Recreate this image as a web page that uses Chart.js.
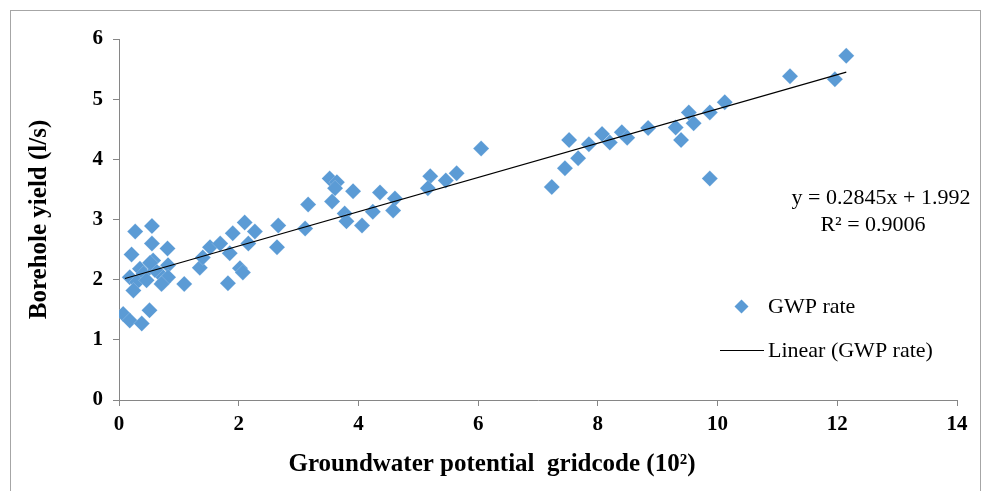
<!DOCTYPE html>
<html>
<head>
<meta charset="utf-8">
<script src="https://cdn.jsdelivr.net/npm/chart.js@4.4.1/dist/chart.umd.min.js"></script>
<style>
  html, body { margin: 0; padding: 0; background: #ffffff; }
  #wrap { width: 984px; height: 491px; position: relative; }
</style>
</head>
<body>
<div id="wrap"><canvas id="c" width="984" height="491"></canvas></div>
<script>
// ---- data ----
const gwpX = [
  0.27, 0.55, 0.21, 0.55, 0.81, 0.57, 0.18, 0.35, 0.41, 0.30,
  0.24, 0.46, 0.68, 0.82, 0.74, 0.82, 1.09, 0.71, 0.07, 0.18,
  0.38, 0.51, 0.60, 0.52,
  2.10, 1.90, 2.27, 2.66, 2.64, 2.16, 1.52, 1.69, 1.85, 1.35,
  1.40, 2.02, 2.07, 1.82,
  3.11, 3.16, 3.52, 3.64, 3.61, 3.91, 3.56, 3.77, 3.80, 4.06,
  4.24, 4.36, 4.61, 4.58, 5.20, 5.16, 5.46, 5.64, 6.05,
  7.23, 7.45, 7.67, 7.52, 7.85, 8.07, 8.20, 8.40, 8.49, 8.84,
  9.30, 9.39, 9.52, 9.60, 9.87, 10.12, 9.87,
  11.21, 11.96, 12.15
];
const gwpY = [
  2.80, 2.89, 2.42, 2.60, 2.52, 2.32, 2.04, 2.18, 2.10, 1.96,
  1.82, 1.99, 2.10, 2.24, 1.96, 2.04, 1.93, 1.93, 1.43, 1.32,
  1.27, 1.49, 2.16, 2.28,
  2.95, 2.77, 2.80, 2.90, 2.54, 2.60, 2.54, 2.60, 2.44, 2.20,
  2.37, 2.19, 2.12, 1.94,
  2.85, 3.25, 3.68, 3.62, 3.52, 3.47, 3.30, 3.10, 2.97, 2.90,
  3.13, 3.45, 3.35, 3.15, 3.72, 3.52, 3.65, 3.77, 4.18,
  3.54, 3.85, 4.02, 4.32, 4.25, 4.42, 4.28, 4.45, 4.36, 4.52,
  4.53, 4.32, 4.78, 4.60, 4.78, 4.95, 3.68,
  5.38, 5.33, 5.72
];
const trendX = [0.10, 12.15];
const trendY = [2.02, 5.45];
const xTicks = [0, 2, 4, 6, 8, 10, 12, 14];
const yTicks = [0, 1, 2, 3, 4, 5, 6];
const seriesName = 'GWP rate';
const trendName = 'Linear (GWP rate)';
const equationText = 'y = 0.2845x + 1.992';
const r2Text = 'R² = 0.9006';
const xTitle = 'Groundwater potential  gridcode (10²)';
const yTitle = 'Borehole yield (l/s)';

const SERIF = '"Liberation Serif", "Times New Roman", Times, serif';
const BLUE = '#5B9BD5';
const AXIS = '#868686';

const pts = gwpX.map((x, i) => ({ x: x, y: gwpY[i] }));
const trendPts = trendX.map((x, i) => ({ x: x, y: trendY[i] }));

const decor = {
  id: 'decor',
  beforeDraw(chart) {
    const ctx = chart.ctx;
    ctx.save();
    ctx.fillStyle = '#ffffff';
    ctx.fillRect(0, 0, chart.width, chart.height);
    ctx.strokeStyle = '#a6a6a6';
    ctx.lineWidth = 1;
    ctx.strokeRect(10.5, 10.5, 970, 520);
    ctx.restore();
  },
  afterDraw(chart) {
    const ctx = chart.ctx;
    ctx.save();
    ctx.font = '22px ' + SERIF;
    ctx.fillStyle = '#000';
    ctx.textBaseline = 'middle';
    ctx.textAlign = 'center';
    ctx.fillText(equationText, 881, 198);
    ctx.fillText(r2Text, 873, 225);
    // legend
    ctx.textAlign = 'left';
    ctx.fillStyle = BLUE;
    ctx.beginPath();
    const cx = 741.5, cy = 306.5, r = 7;
    ctx.moveTo(cx, cy - r); ctx.lineTo(cx + r, cy); ctx.lineTo(cx, cy + r); ctx.lineTo(cx - r, cy);
    ctx.closePath(); ctx.fill();
    ctx.fillStyle = '#000';
    ctx.fillText(seriesName, 768, 307);
    ctx.strokeStyle = '#000';
    ctx.lineWidth = 1;
    ctx.beginPath(); ctx.moveTo(720, 350.5); ctx.lineTo(764, 350.5); ctx.stroke();
    ctx.fillText(trendName, 768, 351);
    ctx.restore();
  }
};

new Chart(document.getElementById('c'), {
  type: 'scatter',
  data: {
    datasets: [
      {
        label: seriesName,
        data: pts,
        pointStyle: 'rectRot',
        pointRadius: 8,
        pointHoverRadius: 8,
        backgroundColor: BLUE,
        borderColor: 'rgba(255,255,255,0.35)',
        borderWidth: 0.5,
        order: 2
      },
      {
        type: 'line',
        label: trendName,
        data: trendPts,
        borderColor: '#000000',
        borderWidth: 1.2,
        pointRadius: 0,
        fill: false,
        order: 1
      }
    ]
  },
  options: {
    responsive: false,
    animation: false,
    events: [],
    layout: { padding: { top: 39, right: 0, left: 0, bottom: 0 } },
    plugins: {
      legend: { display: false },
      tooltip: { enabled: false },
      title: {
        display: true,
        position: 'bottom',
        text: xTitle,
        color: '#000',
        font: { family: SERIF, size: 25, weight: 'bold', lineHeight: 1.2 },
        padding: { top: 0, bottom: 11 }
      }
    },
    scales: {
      x: {
        type: 'linear',
        min: 0, max: 14,
        afterBuildTicks(s) { s.ticks = xTicks.map(v => ({ value: v })); },
        afterFit(s) { s.height = 50; },
        ticks: {
          color: '#000',
          padding: 6,
          maxRotation: 0,
          font: { family: SERIF, size: 21, weight: 'bold' }
        },
        grid: { display: true, drawOnChartArea: false, drawTicks: true, tickLength: 6, color: AXIS },
        border: { display: true, color: AXIS, width: 1 }
      },
      y: {
        type: 'linear',
        min: 0, max: 6,
        afterBuildTicks(s) { s.ticks = yTicks.map(v => ({ value: v })); },
        afterFit(s) { s.width = 119; },
        ticks: {
          color: '#000',
          padding: 10,
          font: { family: SERIF, size: 21, weight: 'bold' }
        },
        title: {
          display: true,
          text: yTitle,
          color: '#000',
          font: { family: SERIF, size: 25, weight: 'bold', lineHeight: 1.2 },
          padding: { top: 25, bottom: 0 }
        },
        grid: { display: true, drawOnChartArea: false, drawTicks: true, tickLength: 6, color: AXIS },
        border: { display: true, color: AXIS, width: 1 }
      },
      ySpacer: {
        type: 'linear',
        position: 'right',
        display: true,
        min: 0, max: 6,
        afterFit(s) { s.width = 27; },
        ticks: { display: false },
        grid: { display: false, drawTicks: false },
        border: { display: false }
      }
    }
  },
  plugins: [decor]
});
</script>
</body>
</html>
